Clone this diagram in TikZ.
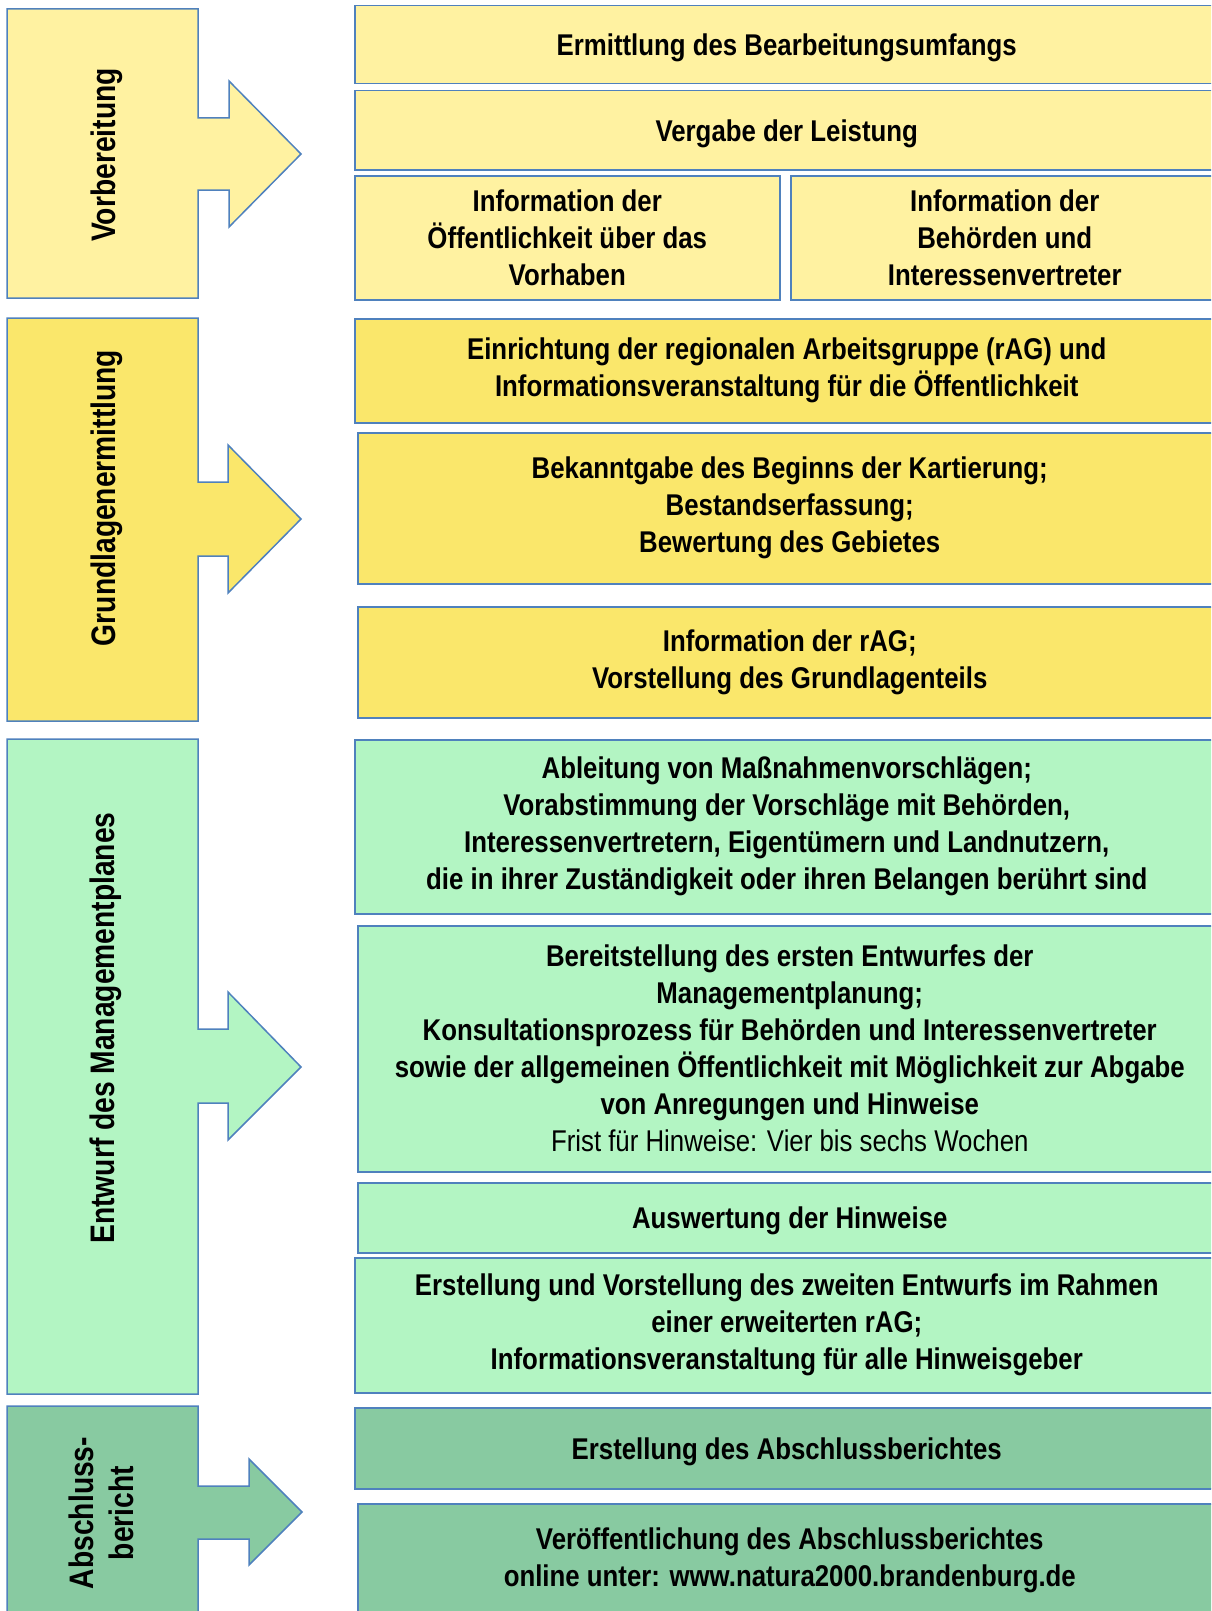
\documentclass[tikz,border=0pt]{standalone}
\usepackage{fontspec}
\setmainfont{Liberation Sans}[FakeStretch=0.86]
\newfontfamily\phasefont{Liberation Sans}[FakeStretch=0.83]
\definecolor{framecol}{RGB}{79,129,189}
\definecolor{vorbcol}{RGB}{255,242,161}
\definecolor{grundcol}{RGB}{250,231,107}
\definecolor{entwcol}{RGB}{179,245,195}
\definecolor{abschcol}{RGB}{136,202,161}

\begin{document}
\begin{tikzpicture}[x=0.5pt,y=-0.5pt]

\tikzset{task/.style={draw=framecol,line width=0.75pt,anchor=north west,inner sep=0pt,align=center,minimum width=432pt,font=\fontsize{15}{18.5}\selectfont\bfseries,execute at begin node={\rule{0pt}{14pt}}},
phase/.style={draw=framecol,line width=0.75pt,line join=miter},
phaselabel/.style={rotate=90,align=center,inner sep=0pt,font=\phasefont\fontsize{17}{20}\selectfont\bfseries}}

\useasboundingbox (0,0) rectangle (1211,1611);
\clip (0,0) rectangle (1211,1611);

% Phases with arrows
\draw[phase,fill=vorbcol] (7,9) -- (198,9) -- (198,118) -- (229,118) -- (229,81) -- (301,154) -- (229,227) -- (229,190) -- (198,190) -- (198,298) -- (7,298) -- cycle;
\draw[phase,fill=grundcol] (7,318) -- (198,318) -- (198,482) -- (228,482) -- (228,445) -- (301,519) -- (228,593) -- (228,556) -- (198,556) -- (198,721) -- (7,721) -- cycle;
\draw[phase,fill=entwcol] (7,739) -- (198,739) -- (198,1029) -- (228,1029) -- (228,992) -- (301,1067) -- (228,1140) -- (228,1103) -- (198,1103) -- (198,1394) -- (7,1394) -- cycle;
\draw[phase,fill=abschcol] (7,1406) -- (198,1406) -- (198,1486) -- (249,1486) -- (249,1459) -- (302,1512) -- (249,1565) -- (249,1539) -- (198,1539) -- (198,1630) -- (7,1630) -- cycle;

% Phase labels
\node (vorb) [phaselabel] at (107,155) {Vorbereitung};
\node (grund) [phaselabel] at (107,498) {Grundlagenermittlung};
\node (entw) [phaselabel] at (106,1028) {Entwurf des Managementplanes};
\node (absch) [phaselabel] at (101,1513) {Abschluss-\\bericht};

% Vorbereitung
\node (v1) [task,fill=vorbcol,minimum height=39pt] at (354,5) {Ermittlung des Bearbeitungsumfangs};
\node (v2) [task,fill=vorbcol,minimum height=39.5pt] at (354,90) {Vergabe der Leistung};
\node (v3) [task,fill=vorbcol,minimum height=62pt,minimum width=212.5pt] at (354,175) {Information der\\Öffentlichkeit über das\\Vorhaben};
\node (v4) [task,fill=vorbcol,minimum height=62pt,minimum width=214pt] at (790,175) {Information der\\Behörden und\\Interessenvertreter};

% Grundlagenermittlung
\node (g1) [task,fill=grundcol,minimum height=52pt] at (354,318) {Einrichtung der regionalen Arbeitsgruppe (rAG) und\\Informationsveranstaltung für die Öffentlichkeit};
\node (g2) [task,fill=grundcol,minimum height=75.5pt] at (357,432) {Bekanntgabe des Beginns der Kartierung;\\Bestandserfassung;\\Bewertung des Gebietes};
\node (g3) [task,fill=grundcol,minimum height=55.5pt] at (357,606) {Information der rAG;\\Vorstellung des Grundlagenteils};

% Entwurf des Managementplanes
\node (e1) [task,fill=entwcol,minimum height=87pt] at (354,739) {Ableitung von Maßnahmenvorschlägen;\\Vorabstimmung der Vorschläge mit Behörden,\\Interessenvertretern, Eigentümern und Landnutzern,\\die in ihrer Zuständigkeit oder ihren Belangen berührt sind};
\node (e2) [task,fill=entwcol,minimum height=123pt] at (357,925) {Bereitstellung des ersten Entwurfes der\\Managementplanung;\\Konsultationsprozess für Behörden und Interessenvertreter\\sowie der allgemeinen Öffentlichkeit mit Möglichkeit zur Abgabe\\von Anregungen und Hinweise\\\mdseries Frist für Hinweise: Vier bis sechs Wochen};
\node (e3) [task,fill=entwcol,minimum height=35pt] at (357,1182) {Auswertung der Hinweise};
\node (e4) [task,fill=entwcol,minimum height=67.5pt] at (354,1257) {Erstellung und Vorstellung des zweiten Entwurfs im Rahmen\\einer erweiterten rAG;\\Informationsveranstaltung für alle Hinweisgeber};

% Abschlussbericht
\node (a1) [task,fill=abschcol,minimum height=40.5pt] at (354,1407) {Erstellung des Abschlussberichtes};
\node (a2) [task,fill=abschcol,minimum height=57pt] at (357,1503) {Veröffentlichung des Abschlussberichtes\\online unter: www.natura2000.brandenburg.de};

\end{tikzpicture}
\end{document}
